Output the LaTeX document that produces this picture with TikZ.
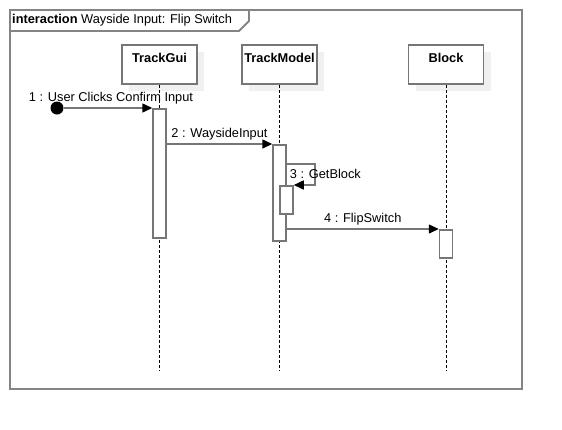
\documentclass[tikz,border=0pt]{standalone}
\usepackage{fontspec}
\setmainfont{Liberation Sans}
\usetikzlibrary{arrows.meta, positioning, shadows}

\definecolor{umlgray}{RGB}{118,118,118}
\definecolor{shade}{RGB}{240,240,240}
\newcommand{\umlfont}{\fontsize{12.8}{15}\selectfont}

\tikzset{
  frame/.style={draw=umlgray!90, line width=1.8pt},
  head/.style={draw=umlgray, line width=1.5pt, fill=white, font=\umlfont\bfseries,
    minimum width=75pt, inner sep=0pt, text height=17pt, text depth=22pt,
    drop shadow={shadow xshift=7pt, shadow yshift=-7pt, fill=shade, opacity=1}},
  life/.style={draw=black, line width=0.9pt, dash pattern=on 3pt off 2pt},
  act/.style={draw=umlgray, line width=1.5pt, fill=white, minimum width=13pt, inner sep=0pt},
  msg/.style={draw=umlgray, line width=1.5pt, -{Triangle[length=10pt, width=9pt, color=black]}},
  dot/.style={circle, fill=black, minimum size=13pt, inner sep=0pt}
}

\begin{document}
\begin{tikzpicture} [x=1pt, y=-1pt, node distance = 120pt, on grid, font=\umlfont]
   \useasboundingbox (0,0) rectangle (562,429);
   \draw[frame] (10,10) rectangle (522,389);
   \draw[frame] (10,31) -- (239,31) -- (249,21) -- (249,10);
   \node (title)[anchor=west, inner sep=2pt] at (10,20) {\textbf{interaction} Wayside Input: Flip Switch};

   \node (gui)[head] at (159.5,64.5) {TrackGui};
   \node (model)[head, right = of gui] {TrackModel};
   \node (blk)[head, right = 166.5pt of model] {Block};

   \draw[life] (gui.south) -- ++(0,286);
   \draw[life] (model.south) -- ++(0,286);
   \draw[life] (blk.south) -- ++(0,286);

   \node (a1)[act, minimum height=129pt, anchor=north] at (gui.south |- 0,108) {};
   \node (a2)[act, minimum height=96pt, anchor=north] at (model.south |- 0,144) {};
   \node (a3)[act, minimum height=28pt, anchor=north] at ([xshift=7pt]model.south |- 0,185) {};
   \node (a4)[act, minimum height=28pt, anchor=north] at (blk.south |- 0,229) {};

   \node (start)[dot] at (57,108) {};

   \draw[msg](start) -- node[above, xshift=3pt]{1 : User Clicks Confirm Input}(a1.north west);
   \draw[msg](a1.east |- a2.north) -- node[above]{2 : WaysideInput}(a2.north west);
   \draw[msg](a2.east |- 0,164) -- ++(28,0) |- (a3.north east);
   \node (l3)[right, inner sep=3pt] at (a2.east |- 0,174) {3 : GetBlock};
   \draw[msg](a2.east |- a4.north) -- node[above]{4 : FlipSwitch}(a4.north west);
\end{tikzpicture}
\end{document}
